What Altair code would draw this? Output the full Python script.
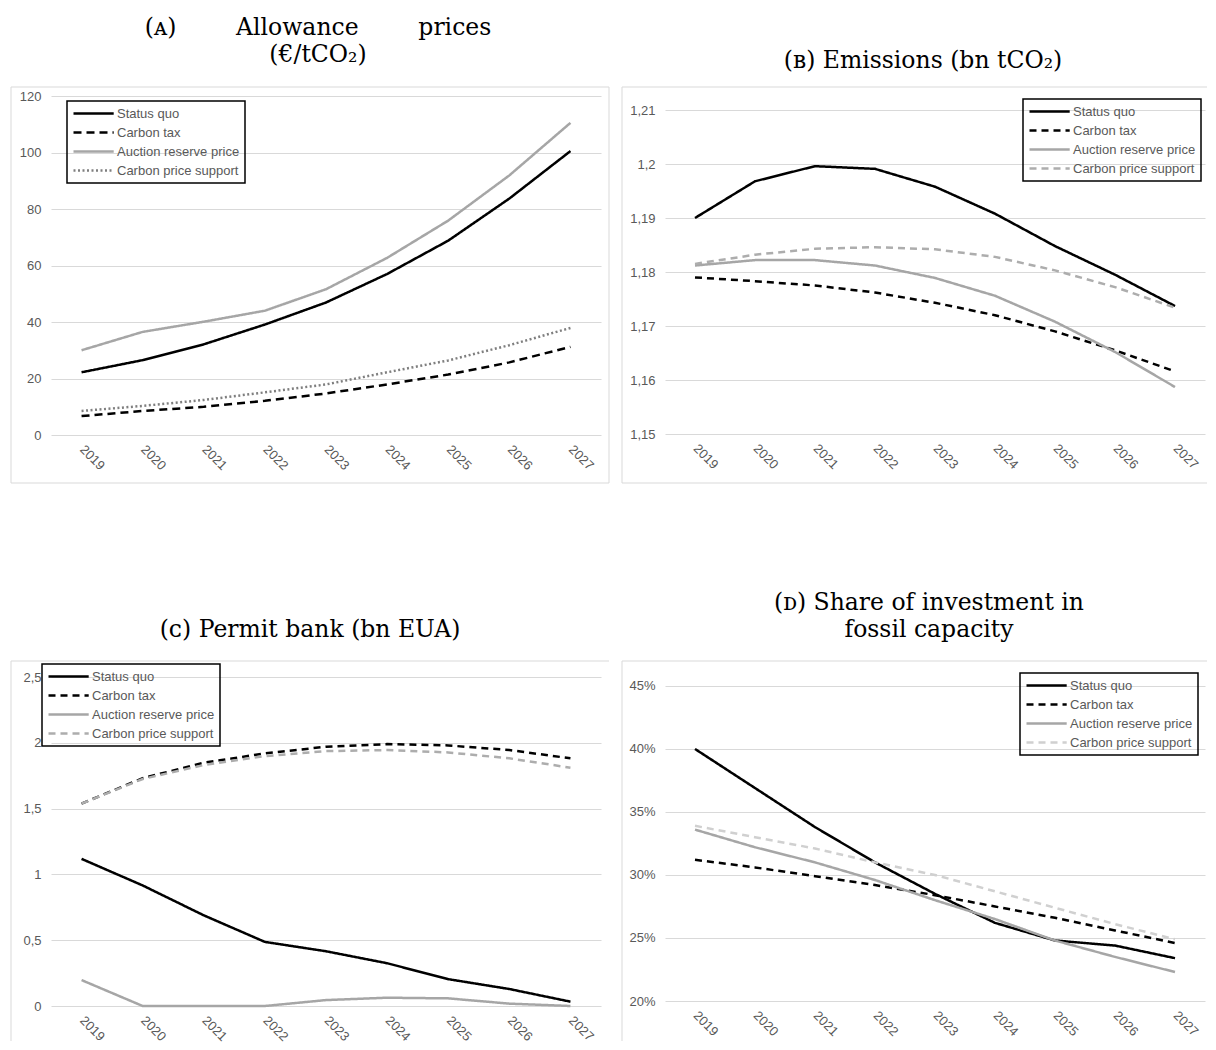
import altair as alt
import pandas as pd

years = ["2019", "2020", "2021", "2022", "2023", "2024", "2025", "2026", "2027"]
series_names = ["Status quo", "Carbon tax", "Auction reserve price", "Carbon price support"]

# (A) Allowance prices (EUR/tCO2)
a_status_quo = [22.2, 26.5, 32.1, 39.1, 46.9, 57.0, 68.8, 83.7, 100.5]
a_carbon_tax = [6.7, 8.5, 10.0, 12.1, 14.7, 17.9, 21.4, 25.7, 31.2]
a_auction_reserve = [30.0, 36.5, 40.1, 44.0, 51.6, 62.7, 75.9, 91.9, 110.5]
a_price_support = [8.5, 10.3, 12.4, 15.1, 17.9, 22.2, 26.4, 31.8, 37.9]

# (B) Emissions (bn tCO2)
b_status_quo = [1.1900, 1.1968, 1.1996, 1.1991, 1.1958, 1.1908, 1.1848, 1.1795, 1.1737]
b_carbon_tax = [1.1790, 1.1783, 1.1775, 1.1762, 1.1743, 1.1720, 1.1690, 1.1655, 1.1616]
b_auction_reserve = [1.1812, 1.1822, 1.1822, 1.1812, 1.1789, 1.1756, 1.1708, 1.1652, 1.1587]
b_price_support = [1.1815, 1.1832, 1.1843, 1.1846, 1.1842, 1.1828, 1.1803, 1.1772, 1.1734]

# (C) Permit bank (bn EUA)
c_status_quo = [1.118, 0.916, 0.689, 0.487, 0.416, 0.325, 0.204, 0.129, 0.033]
c_carbon_tax = [1.538, 1.731, 1.849, 1.919, 1.970, 1.990, 1.980, 1.945, 1.882]
c_auction_reserve = [0.197, 0.0, 0.0, 0.0, 0.045, 0.063, 0.058, 0.018, 0.0]
c_price_support = [1.538, 1.725, 1.831, 1.899, 1.937, 1.945, 1.927, 1.882, 1.811]

# (D) Share of investment in fossil capacity (%)
d_status_quo = [40.0, 36.9, 33.8, 31.0, 28.5, 26.2, 24.8, 24.4, 23.4]
d_carbon_tax = [31.2, 30.6, 29.9, 29.2, 28.4, 27.5, 26.6, 25.6, 24.6]
d_auction_reserve = [33.6, 32.2, 31.0, 29.6, 28.0, 26.5, 24.8, 23.5, 22.3]
d_price_support = [33.9, 33.0, 32.1, 31.0, 30.0, 28.7, 27.4, 26.1, 24.9]

a_ticks = [0, 20, 40, 60, 80, 100, 120]
b_ticks = [1.15, 1.16, 1.17, 1.18, 1.19, 1.2, 1.21]
c_ticks = [0, 0.5, 1, 1.5, 2, 2.5]
d_ticks = [20, 25, 30, 35, 40, 45]

LABEL_FONT = "Liberation Sans"
TITLE_FONT = "DejaVu Serif"
GRAY_TEXT = "#595959"
GRID = "#d9d9d9"
FRAME = "#d9d9d9"
NB = "\u00a0"


def long_table(values):
    rows = []
    for name, vals in zip(series_names, values):
        for yr, v in zip(years, vals):
            rows.append({"year": yr, "series": name, "value": v})
    return pd.DataFrame(rows)


def frame_layers(parts):
    one = pd.DataFrame({"k": [0]})
    layers = []
    for p in parts:
        if p[0] == "v":
            _, x, y1, y2 = p
            layers.append(alt.Chart(one).mark_rule(color=FRAME, strokeWidth=1).encode(
                x=alt.value(x), y=alt.value(y1), y2=alt.value(y2)))
        else:
            _, y, x1, x2 = p
            layers.append(alt.Chart(one).mark_rule(color=FRAME, strokeWidth=1).encode(
                y=alt.value(y), x=alt.value(x1), x2=alt.value(x2)))
    return layers


def panel(values, domain, ticks, label_expr, title_lines, title_offset, title_dx,
          leg_x, leg_y, colors, dashes, width, height, frame):
    df = long_table(values)
    leg = alt.Legend(title=None, orient="none", legendX=leg_x, legendY=leg_y,
                     strokeColor="black", padding=5,
                     symbolType="M-1,0H5.7", symbolSize=144, symbolStrokeWidth=2.5,
                     labelFont=LABEL_FONT, labelFontSize=13, labelColor=GRAY_TEXT,
                     labelOffset=30, rowPadding=4)
    lines = alt.Chart(df).mark_line(strokeWidth=2.5).encode(
        x=alt.X("year:O", sort=years, title=None,
                axis=alt.Axis(labelAngle=45, labelAlign="left", labelBaseline="middle",
                              labelPadding=12, ticks=False, domain=False, grid=False,
                              labelFont=LABEL_FONT, labelFontSize=13, labelColor=GRAY_TEXT)),
        y=alt.Y("value:Q", title=None,
                scale=alt.Scale(domain=domain, nice=False, zero=False),
                axis=alt.Axis(values=ticks, labelExpr=label_expr, ticks=False, domain=False,
                              grid=True, gridColor=GRID, gridWidth=1, labelPadding=10,
                              labelFont=LABEL_FONT, labelFontSize=13, labelColor=GRAY_TEXT)),
        color=alt.Color("series:N", sort=series_names,
                        scale=alt.Scale(domain=series_names, range=colors), legend=leg),
        strokeDash=alt.StrokeDash("series:N", sort=series_names,
                                  scale=alt.Scale(domain=series_names, range=dashes), legend=leg),
        order=alt.Order("order:Q"),
    ).transform_calculate(order="indexof(%s, datum.series)" % str(series_names[::-1]))
    layers = frame_layers(frame) + [lines]
    return alt.layer(*layers).properties(
        width=width, height=height,
        title=alt.TitleParams(text=title_lines, font=TITLE_FONT, fontSize=23.5,
                              fontWeight="normal", color="black", anchor="middle",
                              offset=title_offset, dx=title_dx, lineHeight=27),
    )


W1, W2 = 550, 540

chart_a = panel(
    [a_status_quo, a_carbon_tax, a_auction_reserve, a_price_support],
    [0, 123.19], a_ticks, "toString(datum.value)",
    ["(ᴀ)" + NB * 8 + "Allowance" + NB * 8 + "prices", "(€/tCO₂)"], 20, -8,
    16, 14,
    ["#000000", "#000000", "#a6a6a6", "#7f7f7f"],
    [[1, 0], [8, 5], [1, 0], [2, 2.5]],
    W1, 348,
    [("v", -40, 0, 396), ("v", 558, 0, 396), ("h", 0, -40, 558), ("h", 396, -40, 558)],
)

chart_b = panel(
    [b_status_quo, b_carbon_tax, b_auction_reserve, b_price_support],
    [1.15, 1.21426], b_ticks, "replace(toString(datum.value), '.', ',')",
    ["(ʙ) Emissions (bn tCO₂)"], 14, -12,
    358, 12,
    ["#000000", "#000000", "#a6a6a6", "#adadad"],
    [[1, 0], [7, 5], [1, 0], [7, 5]],
    W2, 347,
    [("v", -43, 0, 396), ("h", 0, -43, 542), ("h", 396, -43, 542)],
)

chart_c = panel(
    [c_status_quo, c_carbon_tax, c_auction_reserve, c_price_support],
    [0, 2.6216], c_ticks, "replace(toString(datum.value), '.', ',')",
    ["(ᴄ) Permit bank (bn EUA)"], 19, -16,
    -9, 3,
    ["#000000", "#000000", "#a6a6a6", "#adadad"],
    [[1, 0], [7, 5], [1, 0], [7, 5]],
    W1, 345,
    [("v", -40, 0, 380), ("h", 0, -40, 558)],
)

chart_d = panel(
    [d_status_quo, d_carbon_tax, d_auction_reserve, d_price_support],
    [20, 46.98], d_ticks, "toString(datum.value) + '%'",
    ["(ᴅ) Share of investment in", "fossil capacity"], 19, -6,
    355, 12,
    ["#000000", "#000000", "#a6a6a6", "#d0d0d0"],
    [[1, 0], [7, 5], [1, 0], [7, 5]],
    W2, 340,
    [("v", -43, 0, 380), ("h", 0, -43, 542)],
)

chart = alt.concat(
    chart_a, chart_b, chart_c, chart_d,
    columns=2, bounds="flush",
    spacing=alt.RowColnumber(row=226, column=64),
).properties(
    padding={"left": 2, "top": 8, "right": 0, "bottom": 0},
    background="white",
).configure_view(stroke=None).configure_legend(strokeWidth=1.5).resolve_scale(
    color="independent", strokeDash="independent", x="independent", y="independent"
)

chart.save("out.html", embed_options={"renderer": "svg", "actions": False})
